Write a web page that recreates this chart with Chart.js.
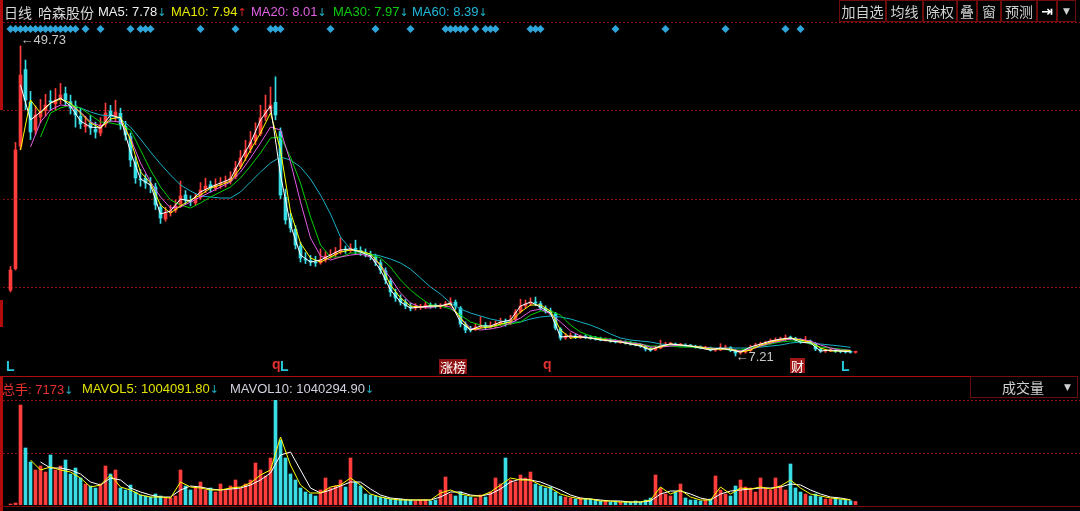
<!DOCTYPE html>
<html>
<head>
<meta charset="utf-8">
<title>哈森股份 日线</title>
<script src="https://cdn.jsdelivr.net/npm/chart.js@4.4.1/dist/chart.umd.min.js"></script>
<style>
  html, body { margin: 0; padding: 0; background: #000; }
  #box { position: relative; width: 1080px; height: 511px; overflow: hidden; background: #000;
         font-family: "Liberation Sans", "Noto Sans CJK SC", sans-serif; }
  canvas { position: absolute; left: 0; }
  #kline { top: 0; }
  #vol { top: 378px; }
  .t { position: absolute; top: 4px; white-space: nowrap; font-size: 13px; line-height: 16px; color: #d8d8d8; }
  .cn { font-family: "Noto Sans CJK SC", sans-serif; font-size: 14px; }
  .dn { color: #1fb2c4; font-family: "DejaVu Sans", sans-serif; font-size: 11px; }
  .up { color: #e02424; font-family: "DejaVu Sans", sans-serif; font-size: 11px; }
  .btn { position: absolute; top: 0; height: 20px; border: 1px solid #6e0c0c; color: #d0d0d0;
         font-family: "Noto Sans CJK SC", sans-serif; font-size: 14px; line-height: 20px; text-align: center; }
  .ln { position: absolute; background: #b00c0c; }
  .tag { position: absolute; font-family: "Liberation Sans", sans-serif; font-weight: bold; font-size: 14px; line-height: 15px; }
  .flag { position: absolute; color: #fff; font-family: "Noto Sans CJK SC", sans-serif; font-size: 13px; line-height: 15px; padding: 0 1px; }
</style>
</head>
<body>
<div id="box">
  <canvas id="kline" width="1080" height="377"></canvas>
  <canvas id="vol" width="1080" height="133"></canvas>

  <div class="ln" style="left:0;top:0;width:3px;height:110px"></div>
  <div class="ln" style="left:0;top:300px;width:3px;height:27px"></div>
  <div class="ln" style="left:0;top:376px;width:3px;height:135px"></div>
  <div class="ln" style="left:0;top:376px;width:970px;height:1px"></div>
  <div class="ln" style="left:0;top:506px;width:1080px;height:1px;background:#7a0a0a"></div>

  <span class="t cn" style="left:4px">日线</span>
  <span class="t cn" style="left:38px">哈森股份</span>
  <span class="t" id="ma5t" style="left:98px;color:#f0f0f0"></span>
  <span class="t" id="ma10t" style="left:171px;color:#e8e800"></span>
  <span class="t" id="ma20t" style="left:251px;color:#e060e0"></span>
  <span class="t" id="ma30t" style="left:333px;color:#10cc10"></span>
  <span class="t" id="ma60t" style="left:412px;color:#20b8d8"></span>

  <div class="btn" style="left:839px;width:45px">加自选</div>
  <div class="btn" style="left:886px;width:35px">均线</div>
  <div class="btn" style="left:923px;width:32px">除权</div>
  <div class="btn" style="left:957px;width:18px">叠</div>
  <div class="btn" style="left:977px;width:22px">窗</div>
  <div class="btn" style="left:1001px;width:34px">预测</div>
  <div class="btn" style="left:1037px;width:18px;font-family:'DejaVu Sans';font-weight:bold;color:#fff">⇥</div>
  <div class="btn" style="left:1057px;width:17px;font-family:'DejaVu Sans';font-size:9px">▼</div>

  <span class="tag" style="left:6px;top:359px;color:#27c7dc">L</span>
  <span class="tag" style="left:272px;top:357px;color:#e23030">q</span>
  <span class="tag" style="left:280px;top:359px;color:#27c7dc">L</span>
  <span class="flag" style="left:439px;top:359px;background:#8e1212">涨榜</span>
  <span class="tag" style="left:543px;top:357px;color:#e23030">q</span>
  <span class="flag" style="left:790px;top:358px;background:#a01616">财</span>
  <span class="tag" style="left:841px;top:359px;color:#27c7dc">L</span>

  <span class="t" id="volt" style="left:2px;top:381px;color:#e83030"></span>
  <span class="t" id="mv5t" style="left:82px;top:381px;color:#e0e000"></span>
  <span class="t" id="mv10t" style="left:230px;top:381px;color:#d0d0e0"></span>
  <div class="btn" style="left:970px;top:376px;width:106px;height:20px;line-height:20px">
    <span style="position:absolute;left:31px">成交量</span>
    <span style="position:absolute;left:93px;font-family:'DejaVu Sans';font-size:9px">▼</span>
  </div>
</div>

<script>
// 日K，每根约占图上5像素（原图约1像素一天，这里按段读取）
const closes = [19.01,35.47,45.75,42.32,37.93,40.27,40.68,41.64,42.05,42.32,
  43.01,42.32,41.23,40.27,39.03,38.89,38.48,37.93,38.89,40.54,
  40.27,40.68,38.89,37.52,34.09,31.63,31.35,30.94,30.67,27.92,
  26.14,26.82,27.10,27.79,29.16,28.61,28.33,28.88,29.98,30.53,
  30.25,30.67,30.94,31.08,31.63,33.00,34.37,35.47,36.56,37.52,
  39.86,40.95,41.64,40.27,29.29,25.86,24.77,22.44,20.65,20.38,
  20.10,19.97,20.38,20.93,21.06,21.48,21.75,21.75,22.02,21.61,
  21.48,21.20,20.93,20.10,19.01,17.64,15.99,15.17,14.62,14.07,
  13.79,13.93,13.93,14.21,14.07,14.07,14.07,14.34,14.62,14.07,
  11.60,10.78,10.78,11.19,11.33,11.19,11.33,11.60,11.87,11.74,
  12.15,13.25,14.07,14.34,14.62,14.48,13.79,13.38,13.11,11.05,
  9.68,9.82,9.95,9.82,9.82,9.82,9.68,9.54,9.41,9.41,
  9.27,9.13,9.13,8.99,8.86,8.72,8.58,8.17,8.03,8.31,
  8.58,8.86,8.86,8.72,8.72,8.58,8.58,8.44,8.31,8.31,
  8.03,8.03,8.31,8.44,8.03,7.62,7.76,7.90,8.44,8.72,
  8.86,8.99,9.27,9.41,9.54,9.68,9.68,9.41,9.13,9.27,
  8.99,8.17,7.90,7.90,8.03,7.85,7.80,7.76,7.74,7.75];

const opens = [16.26,19.20,36.00,46.50,42.00,38.20,40.00,40.90,42.20,41.80,
  42.50,43.20,42.10,41.50,40.10,38.70,39.10,38.30,37.80,39.00,
  40.80,40.10,40.50,38.70,37.30,33.80,31.50,31.60,30.80,30.40,
  27.60,26.00,26.90,27.20,27.90,29.30,28.50,28.20,29.00,30.10,
  30.70,30.20,30.80,31.00,31.20,31.80,33.20,34.50,35.60,36.70,
  37.70,40.00,41.10,42.00,38.00,29.00,26.10,24.60,22.30,20.50,
  20.30,20.00,20.00,20.40,21.00,21.10,21.50,21.80,21.70,22.00,
  21.70,21.40,21.10,20.80,20.00,18.90,17.50,15.90,15.10,14.60,
  14.00,13.80,13.90,13.95,14.20,14.10,14.00,14.10,14.30,14.60,
  13.80,11.50,10.80,10.90,11.20,11.40,11.20,11.30,11.60,11.90,
  11.70,12.20,13.30,14.10,14.40,14.60,14.40,13.80,13.40,13.00,
  10.90,9.70,9.85,9.95,9.80,9.85,9.80,9.70,9.50,9.40,
  9.40,9.25,9.10,9.10,9.00,8.85,8.70,8.55,8.15,8.05,
  8.30,8.60,8.85,8.85,8.70,8.70,8.60,8.55,8.45,8.30,
  8.30,8.00,8.05,8.30,8.40,8.00,7.65,7.75,7.95,8.45,
  8.70,8.85,9.00,9.25,9.40,9.55,9.70,9.65,9.40,9.10,
  9.25,8.95,8.15,7.90,7.90,8.00,7.85,7.80,7.75,7.72];

const highs = [19.50,36.50,49.73,47.80,43.50,41.50,42.40,43.10,43.60,43.90,
  44.60,44.10,43.00,42.20,41.20,40.10,40.20,39.30,39.90,41.90,
  41.60,42.30,41.20,39.40,37.80,34.60,32.80,32.10,31.70,30.90,
  28.10,27.60,27.90,28.60,31.20,29.90,29.20,29.50,31.00,31.60,
  31.20,31.50,31.70,31.90,32.50,33.90,35.40,36.80,38.00,39.20,
  41.60,43.00,44.10,45.50,38.50,30.10,26.80,25.10,22.80,21.40,
  21.00,20.90,21.90,21.50,21.80,22.10,23.40,22.30,22.60,23.10,
  22.20,21.90,21.60,21.20,20.40,19.30,17.90,16.40,15.60,15.00,
  14.50,14.40,14.30,14.60,14.50,14.40,14.40,14.70,15.20,14.90,
  14.00,11.90,11.30,11.70,12.60,11.80,11.90,12.00,12.40,12.30,
  12.80,13.60,15.00,14.90,15.20,15.30,14.70,14.10,13.80,13.20,
  11.10,10.30,10.40,10.20,10.10,10.10,10.00,9.90,9.80,9.70,
  9.60,9.50,9.40,9.30,9.20,9.05,8.90,8.70,8.40,8.60,
  9.40,9.10,9.10,9.00,8.95,8.90,8.80,8.70,8.60,8.55,
  8.45,8.25,8.90,8.70,8.50,8.10,7.95,8.10,8.70,8.95,
  9.10,9.25,9.55,9.70,9.80,10.10,9.95,9.80,9.55,9.90,
  9.40,9.05,8.25,8.10,8.20,8.10,8.00,7.95,7.90,7.88];

const lows = [16.00,19.00,35.50,41.00,36.90,37.60,39.20,40.10,40.90,41.00,
  41.80,41.50,40.40,38.60,38.40,37.90,37.60,37.10,37.40,38.60,
  39.40,39.50,38.30,36.80,33.20,30.90,30.50,30.20,29.60,27.30,
  25.40,25.70,26.40,26.90,27.60,28.00,27.80,27.90,28.70,29.60,
  29.70,29.90,30.20,30.40,30.80,31.50,32.90,34.00,35.10,36.20,
  37.40,39.50,40.60,39.60,28.80,25.30,24.20,21.90,20.10,19.90,
  19.60,19.50,19.80,20.10,20.60,20.80,21.20,21.30,21.40,21.20,
  21.00,20.80,20.40,19.60,18.50,17.10,15.40,14.70,14.20,13.70,
  13.40,13.50,13.60,13.70,13.80,13.80,13.70,13.90,14.10,13.60,
  11.20,10.40,10.50,10.70,11.00,10.90,11.00,11.10,11.40,11.30,
  11.50,12.00,13.10,13.80,14.10,14.10,13.50,13.10,12.80,10.80,
  9.40,9.50,9.60,9.60,9.60,9.60,9.50,9.40,9.30,9.25,
  9.10,9.00,8.95,8.85,8.70,8.60,8.40,7.90,7.85,7.95,
  8.20,8.50,8.65,8.60,8.55,8.45,8.45,8.30,8.20,8.15,
  7.90,7.85,7.95,8.20,7.80,7.21,7.45,7.60,7.85,8.30,
  8.55,8.70,8.85,9.10,9.25,9.40,9.45,9.25,8.95,9.00,
  8.85,7.95,7.70,7.70,7.80,7.70,7.65,7.62,7.60,7.60];

// 成交量（股）
const volumes = [200000,400000,20000000,11400000,8600000,7000000,7800000,6600000,10000000,7000000,
  7800000,9000000,6200000,7400000,5400000,4200000,3800000,3400000,4200000,7800000,
  6200000,7000000,3400000,3000000,4000000,2600000,2000000,1800000,1600000,2200000,
  1800000,1400000,1400000,1800000,7000000,3800000,3000000,3400000,4600000,3000000,
  3400000,2600000,4200000,3000000,3800000,5000000,3400000,4200000,5000000,8400000,
  7000000,5800000,9400000,21000000,13000000,9400000,6200000,5000000,3400000,2600000,
  2200000,1800000,3000000,5400000,3400000,3800000,5000000,3600000,9400000,4600000,
  3800000,2200000,2000000,1800000,1600000,1400000,1200000,1000000,1200000,1000000,
  1000000,800000,1000000,1000000,800000,1000000,3000000,5600000,2200000,1800000,
  2600000,1800000,1600000,1400000,2000000,1600000,2600000,5400000,4200000,9400000,
  5000000,4600000,6000000,5400000,6600000,4200000,3800000,3400000,3600000,2600000,
  1800000,1600000,1400000,1200000,1400000,1200000,1200000,1000000,800000,800000,
  600000,800000,600000,600000,600000,800000,600000,1000000,1400000,6000000,
  3400000,2200000,1800000,2600000,4200000,1400000,1000000,1000000,800000,1000000,
  1200000,5800000,3000000,2200000,1800000,3800000,5000000,3600000,3400000,2600000,
  5400000,3400000,3000000,5400000,3800000,3000000,8200000,3400000,2600000,2200000,
  1800000,2200000,1600000,1200000,1200000,1300000,1100000,1050000,853159,717300];

// 均线，每隔一根读一次
const ma5 = [null,44.38,39.58,40.68,41.91,42.60,41.50,39.44,38.62,38.48,
  40.27,39.86,35.19,31.49,30.67,26.69,27.10,28.74,28.47,29.71,
  30.39,30.94,31.49,34.09,36.43,39.58,41.50,32.04,25.18,21.06,
  20.10,20.38,21.06,21.75,21.89,21.48,20.93,19.01,16.26,14.62,
  13.79,13.93,14.07,14.07,14.48,11.87,10.78,11.33,11.33,11.87,
  12.15,14.07,14.62,13.93,13.11,9.82,9.95,9.82,9.68,9.41,
  9.27,9.13,8.86,8.58,8.03,8.58,8.86,8.72,8.58,8.31,
  8.03,8.31,8.03,7.76,8.44,8.86,9.27,9.54,9.68,9.13,
  8.99,7.90,8.03,7.90,7.78];
const ma10 = [null,35.47,42.32,40.54,41.91,42.46,41.91,40.54,39.17,38.48,
  39.72,39.99,36.84,32.45,30.94,27.92,26.82,27.79,28.61,29.29,
  30.25,30.67,31.21,33.00,35.47,37.80,40.54,35.47,26.96,22.71,
  20.65,20.10,20.79,21.48,21.75,21.61,21.20,19.69,16.95,15.17,
  14.07,13.93,14.07,14.07,14.34,12.42,10.78,11.05,11.19,11.60,
  11.87,13.25,14.21,14.21,13.38,10.78,9.68,9.82,9.68,9.54,
  9.27,9.13,8.86,8.72,8.17,8.44,8.86,8.72,8.58,8.44,
  8.17,8.17,8.17,7.76,8.03,8.72,9.13,9.41,9.68,9.41,
  9.13,8.31,7.90,7.90,7.94];
const ma20 = [null,null,35.88,39.31,40.95,41.64,41.50,40.68,39.31,38.76,
  39.44,39.31,37.11,33.68,31.08,29.02,27.51,27.65,28.33,29.02,
  29.71,30.39,31.08,32.45,34.37,36.43,38.62,38.21,33.82,28.33,
  23.40,20.93,20.38,20.79,21.06,21.20,20.79,19.69,17.91,15.85,
  14.48,13.93,13.79,14.21,13.93,12.42,11.05,10.78,10.92,11.19,
  11.74,12.42,13.38,13.66,12.97,11.87,10.64,9.95,9.68,9.54,
  9.41,9.27,8.99,8.86,8.44,8.44,8.58,8.72,8.58,8.44,
  8.31,8.17,8.17,7.90,8.17,8.58,8.99,9.27,9.54,9.54,
  9.27,8.72,8.31,8.03,8.01];
const ma30 = [null,null,null,37.25,40.54,41.23,41.64,41.23,40.27,39.31,
  39.17,38.89,38.21,35.47,32.72,30.39,28.61,27.92,27.51,28.20,
  29.02,29.71,30.39,31.63,33.27,35.05,37.11,37.25,34.51,30.94,
  26.28,22.44,20.79,20.79,21.34,21.34,21.20,20.65,19.42,17.64,
  16.26,15.17,14.21,14.07,13.66,12.83,11.87,11.46,11.19,11.46,
  11.60,11.87,12.83,13.38,13.38,12.83,11.46,10.50,9.95,9.68,
  9.54,9.27,9.13,8.86,8.58,8.58,8.58,8.44,8.44,8.31,
  8.31,8.17,8.03,8.03,8.31,8.58,8.86,9.13,9.27,9.27,
  8.86,8.44,8.31,8.17,7.97];
const ma60 = [null,null,null,null,null,null,41.50,41.23,40.68,40.27,
  40.13,39.72,38.62,36.97,35.19,33.55,32.04,30.67,29.84,29.16,
  29.02,28.88,28.88,29.71,31.08,32.45,33.68,34.51,34.09,33.13,
  31.49,29.29,26.69,23.53,21.89,21.48,21.20,20.93,20.52,19.97,
  19.14,17.91,16.68,15.71,14.48,13.66,13.11,12.70,12.29,12.01,
  11.87,11.87,12.29,12.56,12.70,12.56,12.29,11.87,11.46,10.91,
  10.23,9.68,9.41,9.27,9.13,8.86,8.72,8.58,8.58,8.44,
  8.31,8.31,8.31,8.31,8.31,8.44,8.58,8.72,8.99,9.13,
  8.99,8.86,8.72,8.58,8.39];
const mavol5 = [null,null,9000000,7000000,7600000,7000000,6600000,5400000,3600000,4000000,
  6000000,3600000,3000000,2000000,1600000,1600000,1400000,4600000,3600000,3400000,
  3000000,3000000,3400000,3600000,4400000,6000000,7000000,13600000,8000000,4000000,
  2400000,2400000,3600000,4000000,5400000,4000000,2200000,1600000,1200000,1000000,
  1000000,1000000,1000000,2400000,3000000,2200000,1800000,1800000,2600000,4000000,
  5400000,5000000,5000000,4000000,3400000,2200000,1600000,1200000,1200000,800000,
  800000,600000,600000,600000,1000000,3600000,2200000,3000000,1600000,1000000,
  1000000,3600000,2200000,3400000,3200000,3600000,3200000,3800000,5000000,3400000,
  2200000,1800000,1400000,1200000,1004091.8];
const mavol10 = [null,null,null,8600000,7400000,7400000,7000000,6200000,4600000,4000000,
  5400000,5000000,3400000,2600000,2000000,1600000,1600000,3000000,3800000,3600000,
  3200000,3000000,3200000,3400000,4000000,5000000,6400000,10000000,10600000,7000000,
  3400000,2400000,3000000,3800000,4600000,4600000,3200000,2000000,1400000,1200000,
  1000000,1000000,1000000,1600000,2600000,2600000,2000000,1800000,2200000,3200000,
  4600000,5200000,5000000,4600000,3800000,3000000,2000000,1400000,1200000,1000000,
  800000,800000,600000,600000,800000,2200000,2800000,2800000,2200000,1400000,
  1000000,2200000,2800000,3000000,3200000,3400000,3400000,3600000,4200000,4000000,
  3000000,2200000,1600000,1400000,1040294.9];

// 顶部蓝色菱形信号所在的K线序号
const diamondDays = [0,1,2,3,4,5,6,7,8,9,10,11,12,13,15,18,24,26,27,28,38,45,52,53,54,64,73,80,
  87,88,89,90,91,93,95,96,97,104,105,106,121,131,143,155,158];

const SLOTS = 214;   // 右侧留白的位置也算上
const UP = '#ff3d3d', DOWN = '#39dde6';
const dirColor = closes.map((c, i) => c >= opens[i] ? UP : DOWN);

function arrow(v, prev) {
  return v >= prev ? '<span class="up">↑</span>' : '<span class="dn">↓</span>';
}
function last(a) { return a[a.length - 1]; }
function prevOf(a) { return a[a.length - 2]; }

document.getElementById('ma5t').innerHTML = 'MA5: ' + last(ma5).toFixed(2) + arrow(last(ma5), prevOf(ma5));
document.getElementById('ma10t').innerHTML = 'MA10: ' + last(ma10).toFixed(2) + arrow(last(ma10), prevOf(ma10));
document.getElementById('ma20t').innerHTML = 'MA20: ' + last(ma20).toFixed(2) + arrow(last(ma20), prevOf(ma20));
document.getElementById('ma30t').innerHTML = 'MA30: ' + last(ma30).toFixed(2) + arrow(last(ma30), prevOf(ma30));
document.getElementById('ma60t').innerHTML = 'MA60: ' + last(ma60).toFixed(2) + arrow(last(ma60), prevOf(ma60));
document.getElementById('volt').innerHTML = '<span class="cn" style="font-size:13px">总手</span>: ' + Math.round(last(volumes) / 100) + '<span class="dn">↓</span>';
document.getElementById('mv5t').innerHTML = 'MAVOL5: ' + last(mavol5).toFixed(2) + '<span class="dn">↓</span>';
document.getElementById('mv10t').innerHTML = 'MAVOL10: ' + last(mavol10).toFixed(2) + '<span class="dn">↓</span>';

function maLine(label, arr, color) {
  return {
    type: 'line', label,
    data: arr.map((v, k) => ({ x: k * 2, y: v })),
    borderColor: color, borderWidth: 1, pointRadius: 0, tension: 0, spanGaps: false
  };
}

// 暗红色虚线网格
const dashGrid = {
  id: 'dashGrid',
  beforeDatasetsDraw(chart, args, opts) {
    const { ctx, scales: { y } } = chart;
    ctx.save();
    ctx.strokeStyle = '#8c1212';
    ctx.lineWidth = 1;
    ctx.setLineDash([2, 2]);
    for (let j = 1; j <= opts.parts; j++) {
      const py = Math.round(y.getPixelForValue(y.min + (y.max - y.min) * j / opts.parts)) + 0.5;
      ctx.beginPath();
      ctx.moveTo(3, py);
      ctx.lineTo(chart.width, py);
      ctx.stroke();
    }
    ctx.restore();
  }
};

// 菱形信号 + 最高/最低价标注
const klineMarks = {
  id: 'klineMarks',
  afterDatasetsDraw(chart) {
    const { ctx, chartArea, scales: { x, y } } = chart;
    ctx.save();
    ctx.fillStyle = '#2ea6da';
    const dy = chartArea.top + 7;
    diamondDays.forEach(d => {
      const px = x.getPixelForValue(d);
      ctx.beginPath();
      ctx.moveTo(px, dy - 4); ctx.lineTo(px + 4, dy); ctx.lineTo(px, dy + 4); ctx.lineTo(px - 4, dy);
      ctx.closePath();
      ctx.fill();
    });
    const hi = highs.indexOf(Math.max(...highs));
    const lo = lows.indexOf(Math.min(...lows));
    ctx.fillStyle = '#c8c8c8';
    ctx.font = '13px "Liberation Sans", "DejaVu Sans", sans-serif';
    ctx.textBaseline = 'middle';
    ctx.fillText('←' + highs[hi].toFixed(2), x.getPixelForValue(hi), y.getPixelForValue(highs[hi]) - 6);
    ctx.fillText('←' + lows[lo].toFixed(2), x.getPixelForValue(lo), y.getPixelForValue(lows[lo]) + 1);
    ctx.restore();
  }
};

const xAxis = { type: 'linear', min: -0.5, max: SLOTS - 0.5, bounds: 'data', offset: false, display: false };

new Chart(document.getElementById('kline'), {
  type: 'bar',
  data: {
    datasets: [
      maLine('MA5', ma5, '#ffffff'),
      maLine('MA10', ma10, '#ffff00'),
      maLine('MA20', ma20, '#e45ce4'),
      maLine('MA30', ma30, '#00d000'),
      maLine('MA60', ma60, '#18b0c4'),
      {
        label: 'body',
        data: closes.map((c, i) => ({ x: i, y: [opens[i], c] })),
        backgroundColor: dirColor, barThickness: 3, minBarLength: 1, grouped: false, borderWidth: 0
      },
      {
        label: 'wick',
        data: closes.map((c, i) => ({ x: i, y: [lows[i], highs[i]] })),
        backgroundColor: dirColor, barThickness: 1, grouped: false, borderWidth: 0
      }
    ]
  },
  options: {
    responsive: false,
    animation: false,
    events: [],
    layout: { padding: { left: 8, right: 2, top: 22, bottom: 2 } },
    scales: {
      x: xAxis,
      y: { type: 'linear', min: 4.61, max: 53.02, bounds: 'data', beginAtZero: false, display: false }
    },
    plugins: { legend: { display: false }, tooltip: { enabled: false }, dashGrid: { parts: 4 } }
  },
  plugins: [dashGrid, klineMarks]
});

new Chart(document.getElementById('vol'), {
  type: 'bar',
  data: {
    datasets: [
      maLine('MAVOL5', mavol5, '#ffff00'),
      maLine('MAVOL10', mavol10, '#ffffff'),
      {
        label: 'VOL',
        data: volumes.map((v, i) => ({ x: i, y: v })),
        backgroundColor: dirColor, barThickness: 3, grouped: false, borderWidth: 0
      }
    ]
  },
  options: {
    responsive: false,
    animation: false,
    events: [],
    layout: { padding: { left: 8, right: 2, top: 22, bottom: 6 } },
    scales: {
      x: xAxis,
      y: { type: 'linear', min: 0, max: 21000000, bounds: 'data', display: false }
    },
    plugins: { legend: { display: false }, tooltip: { enabled: false }, dashGrid: { parts: 2 } }
  },
  plugins: [dashGrid]
});
</script>
</body>
</html>
